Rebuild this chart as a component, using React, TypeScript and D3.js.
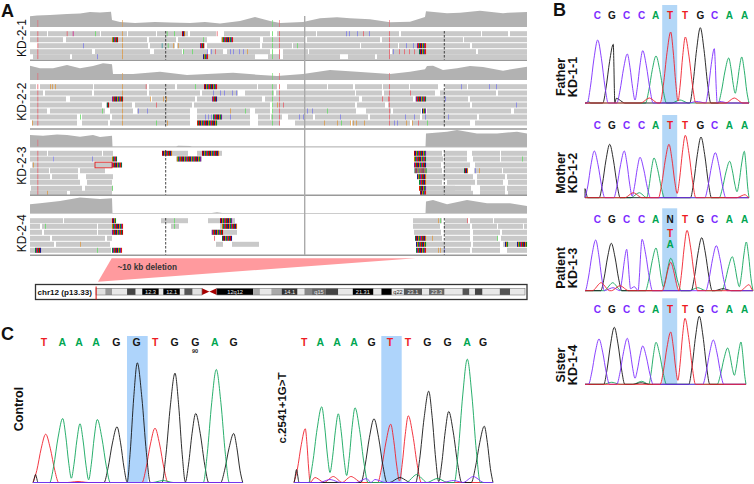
// App.tsx - composite figure: IGV pileups (A), Sanger traces (B, C)
import React from 'react';
import * as d3 from 'd3';

const FONT = '"Liberation Sans", Arial, sans-serif';

const BASE_COLOR: any = { A: '#12a65c', C: '#7d2cff', G: '#151515', T: '#f0202c' };
const LETTER_COLOR: any = { A: '#00a651', C: '#7d2cff', G: '#151515', T: '#ed1c24', N: '#151515' };
const SNP = { r: '#e8606a', o: '#dc9a48', g: '#66dd66', b: '#7f7fe8', m: '#d0208a', t: '#3a9aa0' };
const STRIPES = ['#c00000', '#1a1a90', '#d17105', '#0a8a30', '#7a1fa0', '#e02000', '#0a6a50'];

// ---- panel A data (positions in track units, 0 = left edge of the IGV view) ----
const cov1 = [[0, 10.7], [7, 11.5], [20, 12], [37, 13], [50, 13.5], [60, 15], [70, 14.5], [81, 15.2], [82, 7], [90, 5], [105, 4], [125, 5], [140, 4.5], [160, 4], [175, 5], [190, 3.5], [210, 6], [225, 10], [240, 6], [250, 4], [273, 5], [290, 8.7], [307, 9.7], [320, 8.7], [340, 7.7], [360, 4.7], [380, 5.3], [395, 10], [396, 15.7], [417, 13.7], [430, 14.3], [450, 16.3], [473, 13.7], [478, 14.3], [497, 15]];
const cov2 = [[0, 14.3], [10, 11.7], [23, 11.7], [37, 15], [50, 11.7], [63, 14], [73, 16.7], [82, 15.7], [83, 6], [103, 6], [130, 8.3], [157, 5], [177, 6], [203, 7.3], [227, 5.3], [247, 4], [273, 6], [300, 10], [327, 8.3], [360, 6], [380, 8.3], [395, 10.7], [397, 14], [403, 14.3], [413, 10], [427, 11.7], [440, 14], [453, 13], [473, 9.3], [497, 13.3]];
const cov3 = [[0, 11.7], [13, 11], [27, 12.3], [37, 11.7], [50, 10], [63, 11.7], [70, 9.7], [82, 11], [82.5, 0], [146, 0], [148, 1], [160, 0.7], [162, 0], [395.5, 0], [396, 13.3], [417, 15], [427, 16.7], [447, 13.3], [467, 13.3], [487, 15], [497, 13.3]];
const cov4 = [[0, 9], [10, 10], [30, 12.3], [50, 15.7], [70, 14.3], [82, 15], [82.5, 0], [180, 0], [187, 1], [194, 0], [395.5, 0], [396, 11.7], [403, 13.3], [417, 9], [437, 13.3], [457, 10], [480, 10], [497, 7.3]];

const reads1 = [
  [[0, 17], [18, 70], [71, 97], [98, 126], [127, 158], [160, 186], [194, 240], [247, 286], [287, 369], [371, 451], [452, 478], [480, 497]],
  [[0, 33], [36, 117], [119, 146], [148, 177], [191, 230], [233, 275], [277, 350], [352, 433], [434, 497]],
  [[8, 118], [120, 145], [147, 175], [177, 230], [232, 262], [263, 330], [331, 368], [369, 440], [442, 497]],
  [[0, 62], [65, 120], [124, 152], [153, 177], [180, 193], [197, 240], [253, 278], [279, 360], [362, 446], [448, 497]],
  [[3, 40], [42, 173], [177, 225], [238, 250], [253, 310], [318, 345], [347, 497]],
];
const reads2 = [
  [[0, 6], [10, 63], [64, 117], [119, 145], [147, 227], [228, 247], [257, 297], [298, 323], [325, 352], [353, 379], [380, 408], [415, 437], [438, 497]],
  [[0, 13], [15, 62], [64, 117], [119, 170], [172, 208], [215, 244], [246, 325], [326, 352], [354, 405], [410, 466], [468, 497]],
  [[0, 36], [40, 120], [122, 165], [167, 232], [235, 329], [332, 383], [385, 438], [440, 497]],
  [[0, 72], [76, 102], [105, 162], [164, 240], [243, 325], [327, 355], [358, 440], [442, 497]],
  [[0, 17], [20, 75], [80, 103], [107, 160], [167, 220], [225, 240], [243, 326], [336, 361], [363, 391], [397, 481], [484, 497]],
  [[0, 47], [52, 80], [82, 160], [167, 220], [228, 240], [241, 252], [258, 283], [285, 338], [340, 390], [392, 447], [449, 497]],
  [[2, 47], [52, 78], [80, 160], [167, 220], [228, 250], [265, 320], [322, 380], [382, 440], [445, 497]],
];
const reads3 = [
  [[0, 17], [18, 72], [73, 83], [142, 158], [167, 192], [396, 412], [414, 437], [442, 470], [471, 497]],
  [[0, 23], [24, 82], [146, 172], [396, 413], [414, 437], [443, 470], [471, 497]],
  [[2, 65], [65, 82], [396, 411], [414, 440], [445, 497]],
  [[0, 19], [20, 48], [50, 75], [396, 412], [414, 434], [444, 472], [473, 497]],
  [[0, 20], [22, 48], [56, 83], [396, 416], [415, 443], [447, 475], [477, 497]],
  [[0, 50], [57, 82], [396, 412], [417, 445], [447, 473], [478, 497]],
  [[1, 52], [55, 83], [396, 425], [415, 441], [450, 475], [477, 497]],
  [[0, 37], [40, 82], [396, 420], [417, 443], [450, 475], [478, 497]],
];
const reads4 = [
  [[0, 33], [34, 82], [131, 158], [178, 205], [383, 412], [415, 438], [440, 463], [464, 497]],
  [[0, 10], [12, 67], [68, 82], [141, 149], [190, 207], [383, 410], [414, 440], [442, 467], [468, 493], [494, 497]],
  [[0, 12], [14, 67], [68, 82], [181, 207], [384, 411], [414, 440], [443, 470], [472, 497]],
  [[0, 20], [22, 75], [77, 82], [396, 412], [415, 440], [443, 468], [471, 497]],
  [[0, 24], [26, 80], [186, 193], [202, 229], [396, 414], [414, 441], [443, 470], [473, 497]],
  [[0, 81], [396, 414], [415, 440], [442, 470], [477, 497]],
];

// soft clipped blocks [row, start, end]
const clips1 = [[0, 152, 155], [1, 82, 88], [1, 192, 203], [2, 170, 174], [2, 387, 396], [3, 389, 396], [4, 173, 178]];
const clips2 = [[0, 174, 187], [2, 82, 93], [2, 182, 187], [2, 386, 396], [3, 77, 79], [4, 392, 396], [5, 183, 192], [6, 167, 187]];
const clips3 = [[0, 132, 142], [0, 172, 189], [1, 82, 87], [1, 147, 171], [2, 82, 92], [0, 384, 396], [1, 384, 396], [2, 384, 396], [3, 384.5, 396], [3, 434, 438], [4, 387, 396], [5, 389, 396], [6, 389, 396], [7, 390, 396]];
const clips4 = [[0, 82, 86], [0, 190, 202], [1, 82, 93], [1, 192, 207], [2, 82, 93], [2, 182, 193], [3, 192, 202], [5, 5, 11], [5, 82, 92], [3, 385, 396], [4, 386, 396], [5, 386, 396], [4, 475, 478], [4, 487, 497]];

// single mismatches [row, position, colour key]
const snps1 = [[0, 36.7, 'r'], [0, 42.7, 'm'], [0, 65, 'g'], [0, 136.7, 'g'], [0, 144, 'g'], [0, 186.7, 'r'], [0, 316, 'b'], [0, 319, 'b'], [0, 327, 'b'], [0, 333, 'r'], [0, 339, 'b'], [1, 173, 'g'], [2, 53, 'b'], [2, 131.7, 't'], [2, 137.7, 'g'], [2, 143, 'o'], [2, 148, 'o'], [2, 267, 'g'], [2, 376, 'b'], [2, 383, 'b'], [3, 153, 'g'], [3, 162, 'g'], [3, 177, 'b'], [3, 181, 'b'], [3, 185, 'r'], [3, 200, 'b'], [3, 203, 'b'], [3, 209, 'b'], [3, 213, 'b'], [3, 217, 'o'], [3, 363, 'b'], [3, 369, 'r'], [3, 374, 'r'], [3, 379, 'r'], [3, 384, 'r'], [4, 67, 'b']];
const snps2 = [[0, 20, 'o'], [0, 22, 'o'], [0, 25, 'o'], [0, 115.7, 'r'], [0, 165, 'g'], [0, 431, 'b'], [0, 459, 'b'], [0, 466, 'b'], [1, 183, 'b'], [1, 190, 'b'], [1, 194, 'b'], [1, 202, 'b'], [1, 206, 'b'], [1, 380, 'r'], [2, 120, 'o'], [2, 133, 'o'], [2, 136, 'o'], [2, 352, 'r'], [2, 358, 'r'], [2, 415, 'b'], [3, 126, 'r'], [3, 247, 'o'], [3, 253, 'r'], [3, 486, 'b'], [4, 72, 'g'], [4, 108, 'b'], [4, 117, 'b'], [4, 200, 'o'], [4, 215, 'g'], [4, 277, 'b'], [4, 282, 'b'], [4, 297, 'g'], [5, 50, 'g'], [5, 175, 'b'], [5, 178, 'b'], [5, 181, 'b'], [5, 200, 'b'], [5, 269, 'b'], [5, 273, 'b'], [5, 310, 'b'], [5, 375, 'b'], [5, 384, 'b'], [5, 395, 'b'], [5, 418, 'b'], [6, 2, 'o'], [6, 126, 'g'], [6, 137, 'o'], [6, 294, 'o'], [6, 307, 'o'], [6, 311, 'g'], [6, 320, 'o'], [6, 323, 'o'], [6, 326, 'o'], [6, 334, 'o'], [6, 364, 'b'], [6, 367, 'b'], [6, 376, 'o'], [6, 382, 'o'], [6, 388, 'r'], [6, 397, 'g']];
const snps3 = [[1, 23, 'b'], [1, 62, 'b'], [2, 3, 'o'], [6, 82, 'g'], [7, 17, 'o'], [1, 492, 'g'], [3, 445, 'b'], [3, 449, 'o']];
const snps4 = [[0, 144, 'g'], [1, 15, 'g'], [1, 144, 'g'], [3, 184, 'r'], [4, 50, 'o'], [5, 67, 'g'], [0, 408, 'o'], [0, 410, 'g'], [0, 437, 'r'], [3, 402, 'o'], [3, 467, 'g'], [5, 408, 'o'], [5, 410, 'o'], [5, 414, 'b']];

// mismatch columns through the whole track [position, colour key]
const columnsFull = [[7.3, 'r'], [92, 'o'], [242, 'g'], [249, 'r'], [359, 'r']];
const columnsLeft = [[7.3, 'r']];

const trackNames = ['KD-2-1', 'KD-2-2', 'KD-2-3', 'KD-2-4'];
const rowCenters = [
  [33.7, 39.7, 45.7, 51.7, 56.7],
  [86.7, 93, 99, 105, 111, 117, 123],
  [153.3, 159, 165, 170.7, 176.7, 182.3, 188.3, 193.3],
  [220.7, 226.3, 232.3, 238.3, 244.3, 250.3],
];

// ---- ideogram ----
const bandEdges = [0, 27, 47, 90, 115, 134, 182, 195, 243, 256, 280, 307, 350, 455, 475, 508, 538, 584, 604, 626, 666, 702, 744, 804, 827, 857, 892, 945, 965, 1010, 1040, 1062, 1082, 1098, 1120, 1170, 1200, 1243];
const bandFills = ['#e2e2e2', '#999', '#e8e8e8', '#444', '#e8e8e8', '#000', '#e8e8e8', '#000', '#e8e8e8', '#555', '#e2e2e2', null, '#000', '#aaa', '#e8e8e8', '#aaa', '#333', '#e8e8e8', '#888', '#666', '#444', '#e8e8e8', '#000', '#e8e8e8', '#000', '#e8e8e8', '#555', '#e8e8e8', '#666', '#e8e8e8', '#e8e8e8', '#555', '#e8e8e8', '#444', '#e8e8e8', '#555', '#e8e8e8'];
const bandLabels = [[158, '12.3'], [219, '12.1'], [403, '12q12'], [561, '14.1'], [646, 'q15'], [773, '21.31'], [875, 'q22'], [918, '23.1'], [987, '23.3']];

// ---- sequencing traces ----
const labelScanB = [12.3, 27, 41.7, 56.7, 70.7, 85, 100, 115.3, 129.7, 144.3, 159.7];
const seqB = 'CGCCATTGCAA'.split('');
const seqPatient = 'CGCCAATGCAA'.split('');

const fatherX = [12.7, 28.3, 42.3, 57.7, 71, 85.7, 100.3, 115.3, 129.3, 143.7, 156.7];
const fatherH = [63, 58.7, 49, 52.3, 47, 71, 66, 75.3, 54.3, 45, 46];
const fatherValleys = { 2: 3, 5: 2, 9: 9.7 };
const fatherNoise = [['G', 31.3, 4.7], ['T', 64.3, 5], ['T', 149.3, 5], ['A', 3.3, 1.5], ['A', 95, 3], ['C', 112, 1.5], ['C', 135, 1.5]];

const motherX = [9.3, 24.7, 39.3, 55, 69, 84, 100.3, 116, 130.3, 144.7, 159.3];
const motherH = [46.7, 53.4, 46.7, 40.4, 39.7, 53.4, 62.4, 60.7, 45, 36.4, 46.4];
const motherValleys = { 2: 1.5, 5: 4.3, 9: 6 };
const motherNoise = [['T', 48.3, 5], ['A', 54.3, 5], ['T', 160, 3], ['G', 0, 9]];

const patientX = [10.7, 26.3, 41.7, 57, 71, 85.7, 102, 116.7, 131.3, 147.3, 161.3];
const patientH = [50.7, 47.4, 41.4, 51.4, 42.7, 32.4, 60.4, 53, 45, 34, 48.7];
const patientValleys = { 2: 2, 9: 4, 4: 4 };
const patientNoise = [['T', 85.7, 28.4], ['T', 16, 8], ['A', 27.7, 8], ['T', 35, 5], ['C', 49.3, 4], ['C', 28, 3], ['A', 112.7, 3], ['T', 164, 6], ['G', 138, 2]];

const sisterX = [14, 29.3, 42.3, 57.7, 71, 85.7, 100, 114.3, 128.3, 142.7, 156];
const sisterH = [45.3, 57, 46, 38.3, 42, 52.3, 66, 68, 44.3, 36.3, 42.3];
const sisterValleys = { 2: 6, 5: 4, 9: 9 };
const sisterNoise = [['A', 26.7, 2], ['A', 56.7, 3], ['G', 56, 1.5]];

const seqC1 = 'TAAAGGTGGAG'.split('');
const controlX = [12.7, 29.7, 47, 64.3, 84, 104.3, 122, 142, 162.7, 183.3, 200.7];
const controlH = [48.3, 64, 58.7, 63, 55.7, 119.7, 54.3, 109.3, 69, 113, 49];
const controlValleys = { 1: 4.3, 2: 2.7, 4: 0.5, 7: 0.5 };
const controlLabelX = [11, 29.3, 46, 63, 83.3, 103.7, 122.3, 141.7, 162.3, 181.7, 200.7];
const controlNoise = [['G', 2.5, 8], ['A', 130, 2], ['T', 45, 1]];

const seqC2 = 'TAAAGTTGGAG'.split('');
const mutantX = [11.3, 27.7, 44.3, 61, 80, 96.7, 114.3, 134.7, 154.7, 173.3, 190.3];
const mutantH = [53.7, 75.7, 68.7, 74.7, 63.7, 58.3, 66.7, 91.3, 71, 123.3, 56.3];
const mutantValleys = { 1: 10, 2: 7, 5: 1.5, 7: 1 };
const mutantLabelX = [10.3, 26.3, 43, 60, 77.7, 96, 114, 133.3, 153.7, 173, 189];
const mutantNoise = [['G', 2.5, 13], ['T', 21, 5], ['T', 39.3, 6], ['T', 57, 6], ['C', 72.7, 4], ['C', 81, 3], ['G', 106, 5], ['A', 122.7, 8], ['A', 143.3, 4], ['C', 159.3, 2], ['C', 179.3, 6], ['C', 36, 3]];

const xTrack = d3.scaleLinear().domain([0, 497]).range([30, 527]);
const xIdeo = d3.scaleLinear().domain([0, 1243]).range([96, 525]);
const xB = d3.scaleLinear().domain([0, 170]).range([585, 755]);
const xC1 = d3.scaleLinear().domain([0, 210]).range([33, 243]);
const xC2 = d3.scaleLinear().domain([0, 210]).range([294, 504]);

// key points of one colour's trace: peaks, valleys and feet
function tracePoints(seq: string[], xs: number[], hs: number[], valleys: any, noise: any[], base: string, w: number, x1: number) {
  const peaks = seq
    .map((b, i) => ({ b, x: xs[i], h: hs[i], v: valleys[i], ww: w }))
    .concat(noise.map((n) => ({ b: n[0], x: n[1], h: n[2], v: undefined, ww: n[1] < 4 ? 2.5 : w * 0.8 })))
    .filter((p) => p.b === base)
    .sort((a, b) => a.x - b.x);
  const key: any[] = [{ x: 0, y: 0 }];
  peaks.forEach((p, i) => {
    const next = peaks[i + 1];
    if (i === 0 && p.x - p.ww > 0) key.push({ x: p.x - p.ww, y: 0 });
    key.push({ x: p.x, y: p.h, peak: true });
    if (!next) {
      if (p.x + p.ww < x1) key.push({ x: p.x + p.ww, y: 0 });
    } else if (p.v !== undefined) {
      key.push({ x: (p.x + next.x) / 2, y: p.v });
    } else if (p.x + p.ww < next.x - next.ww) {
      key.push({ x: p.x + p.ww, y: 0 }, { x: next.x - next.ww, y: 0 });
    } else {
      key.push({ x: (p.x + next.x) / 2, y: 0 });
    }
  });
  key.push({ x: x1, y: 0 });
  // shoulders so a peak's flanks read as a bell and not as a tent
  const pts: [number, number][] = [];
  key.forEach((k, i) => {
    const n = key[i + 1];
    pts.push([k.x, k.y]);
    if (!n) return;
    if (k.peak) {
      pts.push([k.x + (n.x - k.x) * 0.35, n.y + (k.y - n.y) * 0.71], [k.x + (n.x - k.x) * 0.7, n.y + (k.y - n.y) * 0.25]);
    } else if (n.peak) {
      pts.push([n.x - (n.x - k.x) * 0.7, k.y + (n.y - k.y) * 0.25], [n.x - (n.x - k.x) * 0.35, k.y + (n.y - k.y) * 0.71]);
    }
  });
  return pts;
}

function Trace({ x, baseline, seq, xs, hs, valleys, noise, w, x1, order, sw }: any) {
  const y = d3.scaleLinear().domain([0, 130]).range([baseline, baseline - 130]);
  const line = d3.line().x((d: any) => x(d[0])).y((d: any) => y(d[1])).curve(d3.curveMonotoneX);
  return (
    <g>
      {order.map((b: string) => (
        <path key={b} d={line(tracePoints(seq, xs, hs, valleys, noise, b, w, x1) as any) || ''} fill="none" stroke={BASE_COLOR[b]} strokeWidth={sw} />
      ))}
    </g>
  );
}

function Letters({ x, y, seq, xs, size }: any) {
  return (
    <g fontFamily={FONT} fontWeight="bold" fontSize={size} textAnchor="middle">
      {seq.map((b: string, i: number) => (
        <text key={i} x={x(xs[i])} y={y} dominantBaseline="central" fill={LETTER_COLOR[b]}>{b}</text>
      ))}
    </g>
  );
}

function Vertical({ x, y, children, size = 12.5, weight = 'bold' }: any) {
  return (
    <text transform={`translate(${x},${y}) rotate(-90)`} textAnchor="middle" dominantBaseline="central" fontFamily={FONT} fontWeight={weight} fontSize={size} fill="#111">
      {children}
    </text>
  );
}

function Track({ cov, covBase, reads, rows, clips, snps, columns, dashFrom, dashTo }: any) {
  const area = d3.area().x((d: any) => xTrack(d[0])).y0(covBase).y1((d: any) => covBase - d[1]);
  const rh = 5;
  return (
    <g>
      <path d={area(cov) || ''} fill="#b2b2b2" />
      {columns.map((c: any, i: number) => (
        <rect key={i} x={xTrack(c[0])} y={covBase - 7} width={1} height={7} fill={(SNP as any)[c[1]]} opacity={0.6} />
      ))}
      {reads.map((row: number[][], r: number) =>
        row.map((d, i) => (
          <rect key={`${r}-${i}`} x={xTrack(d[0])} y={rows[r] - rh / 2} width={xTrack(d[1]) - xTrack(d[0])} height={rh} fill="#c9c9c9" />
        ))
      )}
      <g opacity={0.8}>
        {columns.map((c: any, i: number) =>
          rows.map((yc: number, r: number) => (
            <rect key={`${i}-${r}`} x={xTrack(c[0])} y={yc - rh / 2} width={1} height={rh} fill={(SNP as any)[c[1]]} />
          ))
        )}
        {snps.map((s: any, i: number) => (
          <rect key={i} x={xTrack(s[1])} y={rows[s[0]] - rh / 2} width={1} height={rh} fill={(SNP as any)[s[2]]} />
        ))}
      </g>
      {clips.map((c: number[], i: number) =>
        d3.range(c[1], c[2], 1).map((p, j) => (
          <rect key={`${i}-${j}`} x={xTrack(p)} y={rows[c[0]] - rh / 2} width={1.05} height={rh} fill={STRIPES[(j + c[0] * 2) % STRIPES.length]} />
        ))
      )}
      {[135.7, 414.3].map((p) => (
        <line key={p} x1={xTrack(p)} x2={xTrack(p)} y1={dashFrom} y2={dashTo} stroke="#333" strokeWidth={0.9} strokeDasharray="2.5 1.5" />
      ))}
    </g>
  );
}

export default function App() {
  const order = ['A', 'G', 'C', 'T'];
  const orderC = ['T', 'G', 'A', 'C'];
  const highlightB = [[5, 103], [115, 197.7], [208.3, 290.7], [298.3, 384.3]];
  const ideoY0 = 288.3;
  const ideoY1 = 295;
  return (
    <svg width={754} height={484} viewBox="0 0 754 484" style={{ position: 'absolute', left: 0, top: 0, background: '#fff' }}>
      {/* panel letters */}
      <g fontFamily={FONT} fontWeight="bold" fontSize={18} fill="#111" dominantBaseline="central">
        <text x={1} y={11}>A</text>
        <text x={553} y={10}>B</text>
        <text x={1} y={334}>C</text>
      </g>

      {/* panel A */}
      <Track cov={cov1} covBase={27} reads={reads1} rows={rowCenters[0]} clips={clips1} snps={snps1} columns={columnsFull} dashFrom={31} dashTo={60} />
      <Track cov={cov2} covBase={80} reads={reads2} rows={rowCenters[1]} clips={clips2} snps={snps2} columns={columnsFull} dashFrom={84} dashTo={128} />
      <Track cov={cov3} covBase={146.7} reads={reads3} rows={rowCenters[2]} clips={clips3} snps={snps3} columns={columnsLeft} dashFrom={150} dashTo={195} />
      <Track cov={cov4} covBase={213.3} reads={reads4} rows={rowCenters[3]} clips={clips4} snps={snps4} columns={[]} dashFrom={218} dashTo={255} />
      <rect x={xTrack(65)} y={rowCenters[2][2] - 2.8} width={xTrack(82) - xTrack(65)} height={5.6} fill="none" stroke="#e02020" strokeWidth={0.9} />
      {[60.3, 129, 195.3, 255.3].map((y) => (
        <line key={y} x1={xTrack(0)} x2={xTrack(497)} y1={y} y2={y} stroke="#999" strokeWidth={1.4} />
      ))}
      <line x1={xTrack(0)} x2={xTrack(497)} y1={146.9} y2={146.9} stroke="#aaa" strokeWidth={1} />
      <line x1={xTrack(0)} x2={xTrack(497)} y1={213.5} y2={213.5} stroke="#ccc" strokeWidth={1.2} />
      <line x1={xTrack(274.7)} x2={xTrack(274.7)} y1={16} y2={255} stroke="#aaa" strokeWidth={1.4} />
      {trackNames.map((n, i) => (
        <Vertical key={n} x={21.5} y={[38, 101.7, 165.7, 233.3][i]} size={12} weight="normal">{n}</Vertical>
      ))}

      {/* deletion wedge and ideogram */}
      <polygon points={`${xTrack(81.7)},258.3 ${xTrack(385.7)},258.3 ${xTrack(68)},281.7`} fill="#ff9a9e" />
      <text x={117.5} y={267.8} fontFamily={FONT} fontWeight="bold" fontSize={8.2} fill="#333" dominantBaseline="central">~10 kb deletion</text>
      <rect x={35.5} y={284.5} width={491.5} height={15} fill="#fff" stroke="#333" strokeWidth={1.3} />
      <text x={37.5} y={292} fontFamily={FONT} fontWeight="bold" fontSize={8.1} fill="#111" dominantBaseline="central">chr12 (p13.33)</text>
      {bandFills.map((f, i) =>
        f ? <rect key={i} x={xIdeo(bandEdges[i])} y={ideoY0} width={xIdeo(bandEdges[i + 1]) - xIdeo(bandEdges[i])} height={ideoY1 - ideoY0} fill={f} /> : null
      )}
      <polygon
        points={`${xIdeo(307)},${ideoY0} ${xIdeo(350)},${ideoY1} ${xIdeo(350)},${ideoY0} ${xIdeo(307)},${ideoY1}`}
        fill="#a80000"
      />
      <rect x={xIdeo(0)} y={ideoY0} width={xIdeo(307) - xIdeo(0)} height={ideoY1 - ideoY0} fill="none" stroke="#777" strokeWidth={0.6} />
      <rect x={xIdeo(350)} y={ideoY0} width={xIdeo(1243) - xIdeo(350)} height={ideoY1 - ideoY0} fill="none" stroke="#777" strokeWidth={0.6} />
      {bandLabels.map((b: any) => (
        <text key={b[1]} x={xIdeo(b[0])} y={291.8} fontFamily={FONT} fontSize={5.6} textAnchor="middle" dominantBaseline="central" fill={b[1] === 'q22' ? '#222' : '#eee'}>{b[1]}</text>
      ))}
      <rect x={95.6} y={286.5} width={1} height={13} fill="#e01010" />

      {/* panel B */}
      {highlightB.map((h, i) => (
        <rect key={i} x={xB(77.2)} y={h[0]} width={xB(92.2) - xB(77.2)} height={h[1] - h[0]} fill="#b3d7f7" />
      ))}
      <Trace x={xB} baseline={103} seq={seqB} xs={fatherX} hs={fatherH} valleys={fatherValleys} noise={fatherNoise} w={10.5} x1={164} order={order} sw={0.9} />
      <Trace x={xB} baseline={197.7} seq={seqB} xs={motherX} hs={motherH} valleys={motherValleys} noise={motherNoise} w={10.5} x1={164} order={order} sw={0.9} />
      <Trace x={xB} baseline={290.7} seq={seqPatient} xs={patientX} hs={patientH} valleys={patientValleys} noise={patientNoise} w={10.5} x1={168} order={order} sw={0.9} />
      <Trace x={xB} baseline={384.3} seq={seqB} xs={sisterX} hs={sisterH} valleys={sisterValleys} noise={sisterNoise} w={10.5} x1={161} order={order} sw={0.9} />
      <Letters x={xB} y={15} seq={seqB} xs={labelScanB} size={10} />
      <Letters x={xB} y={125} seq={seqB} xs={labelScanB} size={10} />
      <Letters x={xB} y={219} seq={['C', 'G', 'C', 'C', 'A', 'N', 'T', 'G', 'C', 'A', 'A']} xs={labelScanB} size={10} />
      <Letters x={xB} y={309} seq={seqB} xs={labelScanB} size={10} />
      <g fontFamily={FONT} fontWeight="bold" fontSize={10} textAnchor="middle" dominantBaseline="central">
        <text x={xB(85)} y={233.7} fill={LETTER_COLOR.T}>T</text>
        <text x={xB(85)} y={244.3} fill={LETTER_COLOR.A}>A</text>
      </g>
      <Vertical x={561} y={77}>Father</Vertical>
      <Vertical x={573} y={77}>KD-1-1</Vertical>
      <Vertical x={561} y={173}>Mother</Vertical>
      <Vertical x={573} y={173}>KD-1-2</Vertical>
      <Vertical x={561} y={268}>Patient</Vertical>
      <Vertical x={573} y={268}>KD-1-3</Vertical>
      <Vertical x={561} y={365}>Sister</Vertical>
      <Vertical x={573} y={365}>KD-1-4</Vertical>

      {/* panel C */}
      <rect x={xC1(94)} y={336} width={xC1(114.7) - xC1(94)} height={146.7} fill="#aed4fb" />
      <rect x={xC2(87.3)} y={336} width={xC2(107.7) - xC2(87.3)} height={146.7} fill="#aed4fb" />
      <Trace x={xC1} baseline={482.5} seq={seqC1} xs={controlX} hs={controlH} valleys={controlValleys} noise={controlNoise} w={13} x1={209.7} order={orderC} sw={0.9} />
      <Trace x={xC2} baseline={482.5} seq={seqC2} xs={mutantX} hs={mutantH} valleys={mutantValleys} noise={mutantNoise} w={13} x1={199} order={orderC} sw={0.9} />
      <Letters x={xC1} y={342.3} seq={seqC1} xs={controlLabelX} size={10.5} />
      <Letters x={xC2} y={342.3} seq={seqC2} xs={mutantLabelX} size={10.5} />
      <text x={xC1(162)} y={350.5} fontFamily={FONT} fontWeight="bold" fontSize={5.6} textAnchor="middle" dominantBaseline="central" fill="#222">90</text>
      <Vertical x={18.5} y={409}>Control</Vertical>
      <Vertical x={282} y={408} size={11.5}>c.2541+1G{'>'}T</Vertical>
    </svg>
  );
}
